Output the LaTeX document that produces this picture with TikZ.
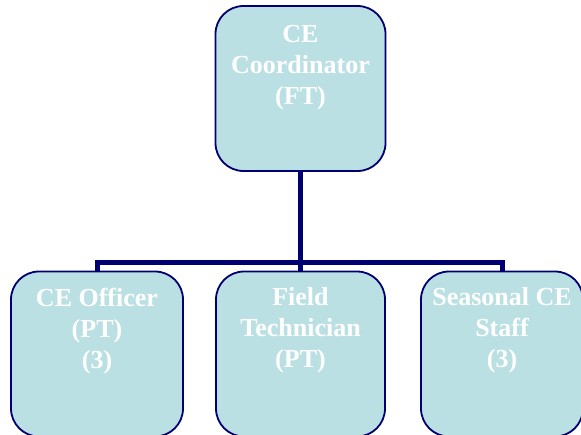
\documentclass[tikz,border=0pt]{standalone}
\usepackage{fontspec}
\setmainfont{Liberation Serif}
\definecolor{boxfill}{HTML}{BBE0E3}
\definecolor{navy}{HTML}{000070}
\begin{document}
\begin{tikzpicture}[x=1pt,y=1pt,
  orgbox/.style={draw=navy, line width=1.8pt, fill=boxfill, rounded corners=28pt, minimum width=170pt, minimum height=165pt, inner sep=0pt},
  orgtext/.style={anchor=north, text=white, align=center, inner sep=0pt, font=\bfseries\fontsize{26}{31}\selectfont},
  link/.style={draw=navy, line width=5pt}]
\useasboundingbox (0,0) rectangle (581,434);
\begin{scope}
\clip (0,0) rectangle (581,434);
\node[orgbox] (top) at (300.5,345.5) {};
\node[orgbox, minimum width=172pt] (a) at (97,80) {};
\node[orgbox, minimum width=169pt] (b) at (300.5,80) {};
\node[orgbox, minimum width=162pt] (c) at (502,80) {};
\draw[link] (top.south) -- (b.north);
\draw[link] (a.north) -- ++(0,8) coordinate (al) -| (c.north);
\node[orgtext] (tt) at ([yshift=-19.5pt]top.north) {CE\\Coordinator\\(FT)};
\node[orgtext] (ta) at ([yshift=-17pt]a.north) {CE Officer\\(PT)\\(3)};
\node[orgtext] (tb) at ([yshift=-17pt]b.north) {Field\\Technician\\(PT)};
\node[orgtext] (tc) at ([yshift=-17pt]c.north) {Seasonal CE\\Staff\\(3)};
\end{scope}
\end{tikzpicture}
\end{document}
